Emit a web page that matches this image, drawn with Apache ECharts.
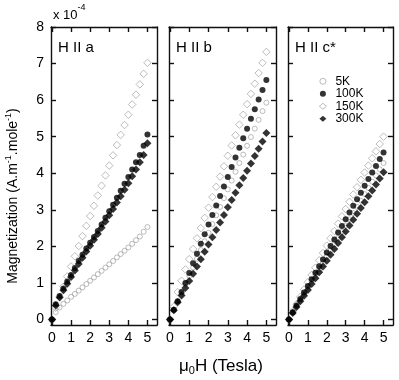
<!DOCTYPE html>
<html><head><meta charset="utf-8">
<script src="https://cdn.jsdelivr.net/npm/echarts@6/dist/echarts.min.js"></script>
<style>html,body{margin:0;padding:0;background:#fff}#c{width:399px;height:380px}</style>
</head><body><div id="c"></div>
<script>
// Field values (Tesla)
const field = [0,0.2,0.4,0.6,0.8,1.0,1.2,1.4,1.6,1.8,2.0,2.2,2.4,2.6,2.8,3.0,3.2,3.4,3.6,3.8,4.0,4.2,4.4,4.6,4.8,5.0];
const seriesNames = ['5K','100K','150K','300K'];
const panelTitles = ['H II a','H II b','H II c*'];
const xTicks = [0,1,2,3,4,5];
const yTicks = [0,1,2,3,4,5,6,7,8];
// Magnetization (x 10^-4)
// Panel H || a
const a_5K   = [0,0.2,0.33,0.43,0.52,0.62,0.7,0.79,0.88,0.97,1.06,1.15,1.24,1.33,1.42,1.51,1.6,1.7,1.79,1.88,1.97,2.07,2.17,2.27,2.4,2.53];
const a_100K = [0,0.42,0.64,0.85,1.04,1.22,1.41,1.6,1.77,1.94,2.1,2.26,2.42,2.6,2.78,2.96,3.14,3.33,3.52,3.71,3.9,4.1,4.3,4.5,4.75,5.06];
const a_150K = [0,0.32,0.62,0.9,1.18,1.45,1.73,2.01,2.28,2.56,2.83,3.11,3.39,3.66,3.94,4.21,4.49,4.77,5.05,5.32,5.6,5.88,6.15,6.43,6.72,7.02];
const a_300K = [0,0.38,0.6,0.8,0.98,1.16,1.34,1.52,1.69,1.86,2.02,2.18,2.34,2.51,2.68,2.85,3.02,3.2,3.37,3.55,3.73,3.92,4.1,4.3,4.5,4.82];
// Panel H || b
const b_5K   = [0,0.26,0.48,0.71,0.95,1.19,1.42,1.66,1.9,2.14,2.37,2.61,2.85,3.08,3.32,3.56,3.8,4.04,4.28,4.51,4.75,4.99,5.22,5.46,5.7,5.93];
const b_100K = [0,0.27,0.5,0.75,1.0,1.27,1.54,1.8,2.07,2.33,2.6,2.86,3.12,3.38,3.64,3.9,4.17,4.43,4.7,4.96,5.22,5.49,5.75,6.02,6.28,6.55];
const b_150K = [0,0.35,0.75,1.06,1.37,1.65,1.93,2.22,2.5,2.78,3.06,3.35,3.63,3.91,4.19,4.48,4.76,5.04,5.33,5.6,5.89,6.17,6.45,6.74,7.02,7.32];
const b_300K = [0,0.25,0.47,0.66,0.86,1.05,1.25,1.45,1.65,1.85,2.05,2.25,2.45,2.65,2.86,3.07,3.27,3.47,3.67,3.87,4.07,4.27,4.47,4.67,4.87,5.1];
// Panel H || c*
const c_5K   = [0,0.19,0.36,0.53,0.7,0.87,1.04,1.21,1.38,1.55,1.72,1.89,2.06,2.23,2.4,2.57,2.74,2.91,3.08,3.25,3.43,3.6,3.77,3.94,4.11,4.28];
const c_100K = [0,0.2,0.38,0.56,0.74,0.92,1.1,1.28,1.46,1.64,1.83,2.01,2.19,2.38,2.56,2.74,2.93,3.11,3.29,3.47,3.66,3.84,4.02,4.2,4.39,4.57];
const c_150K = [0,0.22,0.42,0.62,0.82,1.02,1.22,1.42,1.62,1.82,2.02,2.22,2.42,2.62,2.82,3.02,3.22,3.42,3.62,3.82,4.02,4.21,4.41,4.6,4.8,5.0];
const c_300K = [0,0.18,0.34,0.5,0.65,0.81,0.97,1.13,1.29,1.45,1.61,1.77,1.93,2.09,2.25,2.41,2.57,2.73,2.89,3.05,3.21,3.37,3.53,3.69,3.86,4.03];

const panels = [
  {'5K':a_5K,'100K':a_100K,'150K':a_150K,'300K':a_300K},
  {'5K':b_5K,'100K':b_100K,'150K':b_150K,'300K':b_300K},
  {'5K':c_5K,'100K':c_100K,'150K':c_150K,'300K':c_300K}
];

const gridBox = [{left:51,width:106},{left:169,width:107},{left:288,width:105}];
const TOP = 27, HEIGHT = 298;
const FONT = 'Liberation Sans, Arial, Helvetica, sans-serif';
const lineStyle = {color:'#111', width:1.4};

const styles = {
  '5K':  {symbol:'circle', symbolSize:5, itemStyle:{color:'rgba(0,0,0,0)', borderColor:'#959595', borderWidth:0.8}},
  '100K':{symbol:'circle', symbolSize:6, itemStyle:{color:'#000'}},
  '150K':{symbol:'diamond', symbolSize:7.5, itemStyle:{color:'rgba(0,0,0,0)', borderColor:'#959595', borderWidth:0.8}},
  '300K':{symbol:'diamond', symbolSize:8, itemStyle:{color:'#000'}}
};
const drawOrder = ['5K','150K','100K','300K'];

const grids = [], xAxes = [], yAxes = [], series = [], graphics = [];
gridBox.forEach((g, i) => {
  grids.push({left:g.left, top:TOP, width:g.width, height:HEIGHT, show:false});
  const xBase = {type:'value', gridIndex:i, min:-0.05, max:5.5, splitLine:{show:false},
    axisLine:{show:true, onZero:false, lineStyle:lineStyle},
    axisTick:{show:true, inside:true, length:5, lineStyle:lineStyle, customValues:xTicks}};
  xAxes.push(Object.assign({}, xBase, {position:'bottom',
    axisLabel:{show:true, customValues:xTicks, fontFamily:FONT, fontSize:14, color:'#000', margin:6}}));
  xAxes.push(Object.assign({}, xBase, {position:'top', axisLabel:{show:false}}));
  const yBase = {type:'value', gridIndex:i, min:-0.15, max:8, splitLine:{show:false},
    axisLine:{show:true, onZero:false, lineStyle:lineStyle},
    axisTick:{show:true, inside:true, length:5, lineStyle:lineStyle, customValues:yTicks}};
  yAxes.push(Object.assign({}, yBase, {position:'left',
    axisLabel:{show:i===0, customValues:yTicks, fontFamily:FONT, fontSize:14, color:'#000', margin:7}}));
  yAxes.push(Object.assign({}, yBase, {position:'right', axisLabel:{show:false}}));
  drawOrder.forEach((name, k) => {
    const vals = panels[i][name];
    series.push(Object.assign({type:'scatter', name:name, xAxisIndex:2*i, yAxisIndex:2*i,
      data: field.map((f, j) => [f, vals[j]]), z: 2 + k, clip:false, silent:true, animation:false}, styles[name]));
  });
  graphics.push({type:'text', left:g.left + 7, top:TOP + 13,
    style:{text:panelTitles[i], font:'15px ' + FONT, fill:'#000'}});
});

graphics.push({type:'text', left:53, top:3,
  style:{text:'{a|x 10}{s|-4}', rich:{a:{font:'13px ' + FONT, fill:'#000', padding:[6,0,0,0]}, s:{font:'9px ' + FONT, fill:'#000', verticalAlign:'top'}}}});
graphics.push({type:'text', x:13, y:196, rotation:Math.PI/2,
  style:{text:'{a|Magnetization (A.m}{s|-1}{a|.mole}{s|-1}{a|)}', align:'center', verticalAlign:'middle',
    rich:{a:{font:'14px ' + FONT, fill:'#000'}, s:{font:'9px ' + FONT, fill:'#000', padding:[0,0,9,0]}}}});
graphics.push({type:'text', x:221, y:366,
  style:{text:'{a|μ}{s|0}{a|H (Tesla)}', align:'center', verticalAlign:'middle',
    rich:{a:{font:'17px ' + FONT, fill:'#000'}, s:{font:'11px ' + FONT, fill:'#000', padding:[10,0,0,0]}}}});

const chart = echarts.init(document.getElementById('c'), null, {renderer:'canvas'});
chart.setOption({
  animation:false,
  backgroundColor:'#fff',
  grid:grids, xAxis:xAxes, yAxis:yAxes, series:series,
  legend:{data:seriesNames, orient:'vertical', left:314, top:70, itemWidth:7, itemHeight:6, itemGap:0,
    selectedMode:false, itemStyle:{borderWidth:0.8},
    textStyle:{fontFamily:FONT, fontSize:12, color:'#000', lineHeight:12.5, padding:[0,0,0,4]}},
  graphic:graphics
});
</script></body></html>
